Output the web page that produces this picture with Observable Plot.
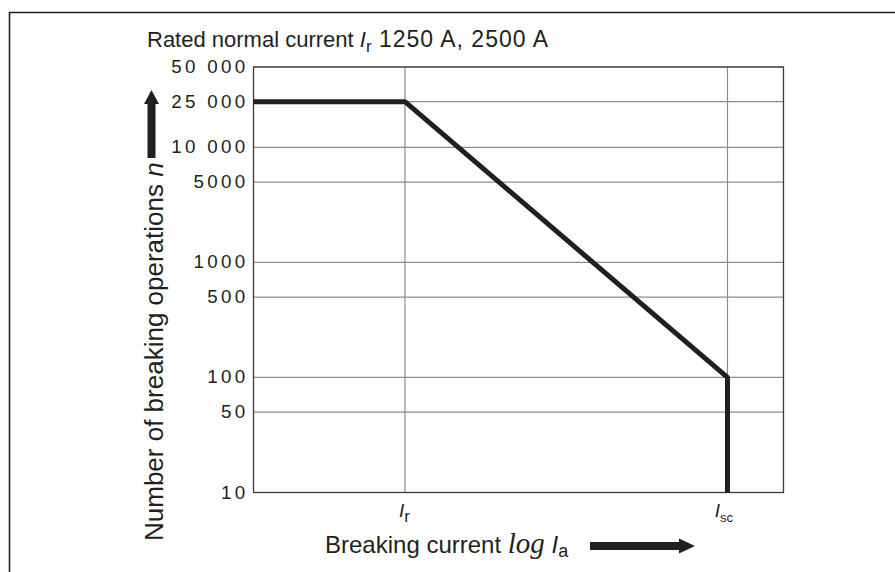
<!DOCTYPE html>
<html>
<head>
<meta charset="utf-8">
<script src="https://cdn.jsdelivr.net/npm/d3@7"></script>
<script src="https://cdn.jsdelivr.net/npm/@observablehq/plot@0.6"></script>
<style>
  html, body { margin: 0; padding: 0; background: #fff; }
  #chart { width: 895px; height: 572px; overflow: hidden; }
</style>
</head>
<body>
<div id="chart"></div>
<script>
// ---- data ----
const yTicks = [10, 50, 100, 500, 1000, 5000, 10000, 25000, 50000];
const yTickLabels = ["10", "50", "100", "500", "1000", "5000", "10 000", "25 000", "50 000"];
const xTickValues = [1, 3.13];            // log I_a positions of I_r and I_sc
const xTickMain = ["I", "I"];
const xTickSub = ["r", "sc"];
const curveX = [0, 1, 3.13, 3.13];
const curveY = [25000, 25000, 100, 10];
const titleParts = ["Rated normal current ", "I", "r", " 1250 A, 2500 A"];
const yLabelParts = ["Number of breaking operations ", "n"];
const xLabelParts = ["Breaking current ", "log", " I", "a"];

const ink = "#231f20";
const font = "'Liberation Sans', Arial, sans-serif";
const curve = curveX.map((x, i) => ({x, y: curveY[i]}));
const yTickRows = yTicks.map((v, i) => ({v, label: yTickLabels[i]}));

const plot = Plot.plot({
  width: 895,
  height: 572,
  marginLeft: 253,
  marginRight: 112,
  marginTop: 66.5,
  marginBottom: 80,
  style: {fontFamily: font, fontSize: "18.5px", color: ink, background: "#fff"},
  x: {domain: [0, 3.5], axis: null},
  y: {type: "log", domain: [10, 50000], axis: null},
  marks: [
    Plot.gridY(yTicks, {stroke: "#8c8c8c", strokeOpacity: 1, strokeWidth: 1.2}),
    Plot.gridX(xTickValues, {stroke: "#8c8c8c", strokeOpacity: 1, strokeWidth: 1.2}),
    Plot.frame({stroke: "#3a3a3a", strokeWidth: 1.3}),
    Plot.text(yTickRows, {
      y: "v", text: "label", frameAnchor: "left", textAnchor: "end", dx: -5,
      fontSize: 18.8, fill: ink
    }),
    Plot.line(curve, {x: "x", y: "y", stroke: ink, strokeWidth: 5, strokeLinejoin: "miter", strokeLinecap: "butt"})
  ]
});

document.getElementById("chart").appendChild(plot);

const svg = d3.select(plot);
svg.selectAll("[aria-label='text'] text").attr("letter-spacing", "3.3px");

const xs = plot.scale("x");

// outer frame (left and top edges of the figure box)
svg.append("path")
  .attr("d", "M9.5,585 V12.5 H905")
  .attr("fill", "none").attr("stroke", ink).attr("stroke-width", 1.6);

// title
const t = svg.append("text")
  .attr("x", 147).attr("y", 46.5)
  .attr("text-anchor", "start")
  .attr("font-family", font)
  .attr("font-size", 22).attr("fill", ink);
t.append("tspan").text(titleParts[0]);
t.append("tspan").attr("font-style", "italic").text(titleParts[1]);
t.append("tspan").attr("font-size", 17).attr("dy", 5).text(titleParts[2]);
t.append("tspan").attr("dy", -5).attr("font-size", 23).attr("letter-spacing", "1px").text(titleParts[3]);

// x tick labels
xTickValues.forEach((v, i) => {
  const tx = svg.append("text")
    .attr("x", xs.apply(v) - (i === 0 ? 0 : 3)).attr("y", 517)
    .attr("text-anchor", "middle")
    .attr("font-family", font)
    .attr("font-size", 19).attr("fill", ink);
  tx.append("tspan").attr("font-style", "italic").text(xTickMain[i]);
  tx.append("tspan").attr("font-size", i === 0 ? 17 : 13).attr("dy", 5).text(xTickSub[i]);
});

// y label
const yl = svg.append("text")
  .attr("transform", "translate(163,541) rotate(-90)")
  .attr("text-anchor", "start")
  .attr("font-family", font)
  .attr("font-size", 26).attr("fill", ink);
yl.append("tspan").text(yLabelParts[0]);
yl.append("tspan").attr("font-style", "italic").text(yLabelParts[1]);

// x label
const xl = svg.append("text")
  .attr("x", 325).attr("y", 553)
  .attr("text-anchor", "start")
  .attr("font-family", font)
  .attr("font-size", 24).attr("fill", ink);
xl.append("tspan").text(xLabelParts[0]);
xl.append("tspan").attr("font-family", "'Liberation Serif', 'Times New Roman', serif")
  .attr("font-style", "italic").attr("font-size", 29).text(xLabelParts[1]);
xl.append("tspan").attr("font-style", "italic").text(xLabelParts[2]);
xl.append("tspan").attr("font-size", 18).attr("dy", 4).text(xLabelParts[3]);

// arrows
svg.append("path")
  .attr("d", "M147.5,158 V104 H144 L151.5,90 L159,104 H155.5 V158 Z")
  .attr("fill", ink);
svg.append("path")
  .attr("d", "M590,542 H679 V538.5 L695,546 L679,553.5 V550 H590 Z")
  .attr("fill", ink);
</script>
</body>
</html>
